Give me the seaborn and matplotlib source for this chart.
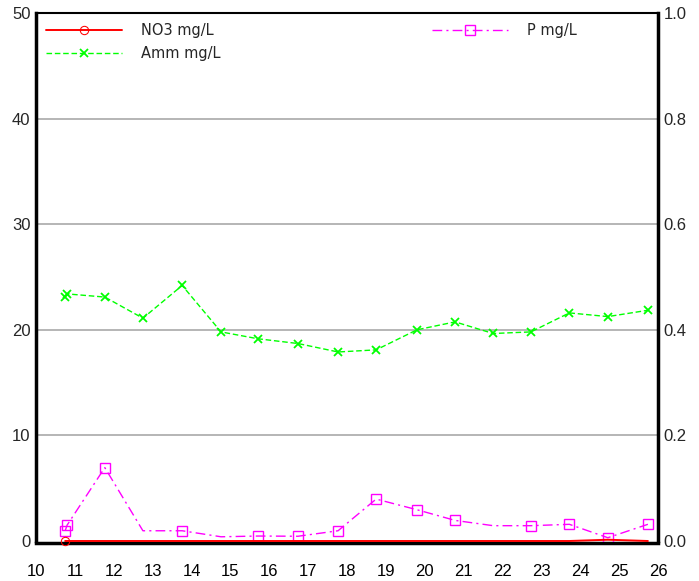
import numpy as np
import pandas as pd
import matplotlib
matplotlib.use('Agg')
import matplotlib.pyplot as plt
import seaborn as sns

sns.set_style('white')
plt.rcParams['font.family'] = ['Liberation Sans', 'DejaVu Sans']

## data
days = [10.75, 10.8, 11.77, 12.75, 13.76, 14.76, 15.71, 16.74, 17.77, 18.75,
        19.8, 20.78, 21.76, 22.73, 23.72, 24.71, 25.74]
no3 = [0.0, 0.0, 0.0, 0.0, 0.0, 0.0, 0.0, 0.0, 0.0, 0.0,
       0.0, 0.0, 0.0, 0.0, 0.0, 0.12, 0.0]
amm = [23.15, 23.4, 23.1, 21.1, 24.2, 19.8, 19.15, 18.7, 17.9, 18.1,
       20.0, 20.75, 19.65, 19.8, 21.6, 21.25, 21.85]
p = [0.97, 1.5, 6.95, 0.97, 0.97, 0.4, 0.47, 0.45, 0.97, 3.97,
     2.96, 1.95, 1.45, 1.45, 1.58, 0.31, 1.58]
p_no_marker = [3, 5, 12]
left_ticks = [0, 10, 20, 30, 40, 50]
right_ticks = [0.0, 0.2, 0.4, 0.6, 0.8, 1.0]
x_ticks = list(range(10, 27))

df = pd.DataFrame({'day': days, 'NO3': no3, 'Amm': amm, 'P': p})

fig = plt.figure(figsize=(6.99, 5.81), dpi=100)
ax = fig.add_axes([36 / 699, 1 - 541 / 581, 622 / 699, 528 / 581])

# gridlines first so the lines sit on top
for v in left_ticks[1:-1]:
    ax.axhline(v, color='#b0b0b0', lw=1.3, zorder=0)

sns.lineplot(data=df, x='day', y='NO3', ax=ax, color='#ff0000', lw=1.4,
             marker='o', markersize=6, markerfacecolor='none',
             markeredgecolor='#ff0000', markevery=[0], label='NO3 mg/L',
             clip_on=False, zorder=4)
sns.lineplot(data=df, x='day', y='Amm', ax=ax, color='#00ff00', lw=1.0,
             linestyle=(0, (4, 2)), marker='x', markersize=6,
             markeredgewidth=1.3, markeredgecolor='#00ff00',
             label='Amm mg/L', zorder=3)
keep = [i for i in range(len(p)) if i not in p_no_marker]
sns.lineplot(data=df, x='day', y='P', ax=ax, color='#ff00ff', lw=1.0,
             linestyle=(0, (7, 3, 1.5, 3)), marker='s', markersize=7,
             markerfacecolor='none', markeredgecolor='#ff00ff',
             markeredgewidth=1.0, markevery=keep, label='P mg/L', zorder=3)

# seaborn may reset marker edges, force them back
for line, c in zip(ax.get_lines()[-3:], ['#ff0000', '#00ff00', '#ff00ff']):
    line.set_markeredgecolor(c)

ax.set_xlim(10, 26)
ax.set_ylim(0, 50)
ax.set_xticks(x_ticks)
ax.set_yticks(left_ticks)
ax.set_xlabel('')
ax.set_ylabel('')
ax.tick_params(axis='x', direction='out', length=11, width=1.2, pad=4,
               labelsize=12, colors='black')
ax.tick_params(axis='y', length=0, pad=4, labelsize=12)

for side, w in [('left', 2.5), ('bottom', 2.5), ('right', 2.5), ('top', 1.5)]:
    ax.spines[side].set_visible(True)
    ax.spines[side].set_linewidth(w)
    ax.spines[side].set_color('black')
ax.spines['bottom'].set_position(('outward', 1.2))
ax.spines['bottom'].set_zorder(1)

ax2 = ax.twinx()
ax2.set_ylim(0, 1)
ax2.set_yticks(right_ticks)
ax2.set_yticklabels([f'{v:.1f}' for v in right_ticks])
ax2.tick_params(axis='y', length=0, pad=4, labelsize=12)
for s in ax2.spines.values():
    s.set_visible(False)

leg = ax.legend(loc='upper left', ncol=2, frameon=False, handlelength=5.2,
                handletextpad=1.3, columnspacing=14.5, labelspacing=0.55,
                borderaxespad=0.3, prop={'family': 'DejaVu Sans', 'size': 10.5})

fig.savefig('out.png', dpi=100)
